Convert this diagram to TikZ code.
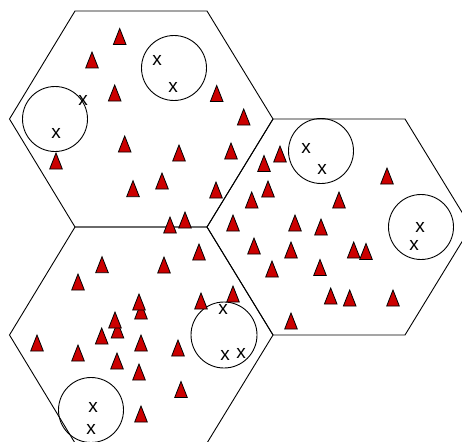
\documentclass[tikz,border=0pt]{standalone}
\usepackage{fontspec}
\setmainfont{Liberation Sans}
\definecolor{trired}{HTML}{CC0000}
\tikzset{
  hexline/.style={draw=black, line width=0.9pt, line join=miter},
  cellcircle/.style={draw=black, line width=0.9pt},
  usermark/.style={inner sep=0pt, font=\fontsize{19}{19}\selectfont},
  tri/.pic={\path[fill=trired, draw=black, line width=0.8pt, line join=miter]
     (0,-8) -- (6.3,8) -- (-6.3,8) -- cycle;}
}
\begin{document}
\begin{tikzpicture}[x=1pt,y=-1pt]
\useasboundingbox (0,0) rectangle (462,441);
\fill[white] (0,0) rectangle (462,441);
\clip (0,0) rectangle (462,441);
% hexagons
\draw[hexline] (75,11) -- (207,11) -- (273,119) -- (207,227) -- (75,227) -- (9.5,119) -- cycle;
\draw[hexline] (273,119) -- (405,119) -- (471,227) -- (405,335) -- (273,335) -- (207,227) -- cycle;
\draw[hexline] (75,227) -- (207,227) -- (273,335) -- (207,443) -- (75,443) -- (9.5,335) -- cycle;
% circles
\node[cellcircle, circle, minimum size=65pt, inner sep=0pt] (c1) at (55,119) {};
\node[cellcircle, circle, minimum size=65pt, inner sep=0pt] (c2) at (174,68) {};
\node[cellcircle, circle, minimum size=65pt, inner sep=0pt] (c3) at (321,151) {};
\node[cellcircle, circle, minimum size=65pt, inner sep=0pt] (c4) at (421,227) {};
\node[cellcircle, circle, minimum size=66pt, inner sep=0pt] (c5) at (224,335) {};
\node[cellcircle, circle, minimum size=65pt, inner sep=0pt] (c6) at (91,410) {};
% triangles
\foreach \p in {
 (119.7,36.5),(92,60),(114.7,93),(216.7,93.5),(243.7,117),(124.7,144),(179,153),(231,151),(56,161),(162,181),(133,188.7),(216,190),(185,220),(170,225),
 (264,163.5),(280,154),(268,189),(251.7,200),(233,223),(387,176),(339,200),(295,223),(321,227),(254,246),(291,250),(353.7,250),(366,251.5),(272,269),(320,267.5),(330.7,296),(349.7,298),(393,298),(291,321),
 (199,252),(102,264.7),(164,265),(78,282),(233,294),(141,311),(139,302),(201,301),(117.5,330),(115,320),(101.7,336),(37,343),(78,353),(141,343),(178,348),(117,361),(139,372),(181,389.5),(141,414)}
 \pic at \p {tri};
% user marks
\node[usermark] (x1) at (83,100) {x};
\node[usermark] (x2) at (56,133) {x};
\node[usermark] (x3) at (157,60) {x};
\node[usermark] (x4) at (173,87) {x};
\node[usermark] (x5) at (306,148) {x};
\node[usermark] (x6) at (322,169) {x};
\node[usermark] (x7) at (420,227) {x};
\node[usermark] (x8) at (414,245) {x};
\node[usermark] (x9) at (223,309) {x};
\node[usermark] (x10) at (225,355) {x};
\node[usermark] (x11) at (241,353) {x};
\node[usermark] (x12) at (93,407) {x};
\node[usermark] (x13) at (91,429) {x};
\end{tikzpicture}
\end{document}
